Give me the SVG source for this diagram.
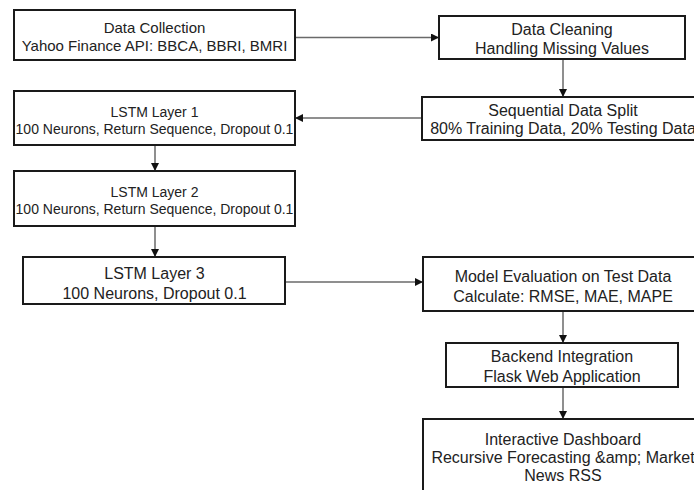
<svg xmlns="http://www.w3.org/2000/svg" width="694" height="490" viewBox="0 0 694 490">
<style>
.box{fill:#fff;stroke:#1a1a1a;stroke-width:2}
.t{font-family:"Liberation Sans",Arial,sans-serif;fill:#222;text-anchor:middle}
.f16{font-size:16px}
.f15{font-size:15px}
.f14{font-size:14px}
.c{fill:none;stroke:#6a6a6a;stroke-width:1.5}
</style>
<defs>
<marker id="ah" markerWidth="8" markerHeight="8" refX="8" refY="4" orient="auto" markerUnits="userSpaceOnUse">
<path d="M0,0 L8,4 L0,8 Z" fill="#111"/>
</marker>
</defs>
<rect width="694" height="490" fill="#fff"/>
<g id="connectors">
<line class="c" x1="295" y1="37.5" x2="439" y2="37.5" marker-end="url(#ah)"/>
<line class="c" x1="563" y1="59" x2="563" y2="97" marker-end="url(#ah)"/>
<line class="c" x1="422" y1="118" x2="295" y2="118" marker-end="url(#ah)"/>
<line class="c" x1="155" y1="145" x2="155" y2="171" marker-end="url(#ah)"/>
<line class="c" x1="155" y1="226" x2="155" y2="257" marker-end="url(#ah)"/>
<line class="c" x1="285" y1="282" x2="423" y2="282" marker-end="url(#ah)"/>
<line class="c" x1="563" y1="311" x2="563" y2="343" marker-end="url(#ah)"/>
<line class="c" x1="563" y1="387" x2="563" y2="419" marker-end="url(#ah)"/>
</g>
<g id="n1">
<rect class="box" x="14" y="10" width="281" height="50"/>
<text class="t f15" x="154.5" y="33">Data Collection</text>
<text class="t f15" x="154.5" y="51">Yahoo Finance API: BBCA, BBRI, BMRI</text>
</g>
<g id="n2">
<rect class="box" x="439" y="16" width="246" height="43"/>
<text class="t f16" x="562" y="35">Data Cleaning</text>
<text class="t f16" x="562" y="53.5">Handling Missing Values</text>
</g>
<g id="n3">
<rect class="box" x="422" y="97" width="282" height="43"/>
<text class="t f16" x="563" y="115.5">Sequential Data Split</text>
<text class="t f16" x="563" y="134">80% Training Data, 20% Testing Data</text>
</g>
<g id="n4">
<rect class="box" x="14" y="91" width="281" height="54"/>
<text class="t f14" x="154.5" y="116.5">LSTM Layer 1</text>
<text class="t f14" x="154.5" y="133.5">100 Neurons, Return Sequence, Dropout 0.1</text>
</g>
<g id="n5">
<rect class="box" x="14" y="171" width="281" height="55"/>
<text class="t f14" x="154.5" y="196.5">LSTM Layer 2</text>
<text class="t f14" x="154.5" y="213.5">100 Neurons, Return Sequence, Dropout 0.1</text>
</g>
<g id="n6">
<rect class="box" x="23" y="257" width="262" height="47"/>
<text class="t f16" x="154.5" y="279">LSTM Layer 3</text>
<text class="t f16" x="154.5" y="298.5">100 Neurons, Dropout 0.1</text>
</g>
<g id="n7">
<rect class="box" x="423" y="257" width="280" height="54"/>
<text class="t f16" x="563" y="281.5">Model Evaluation on Test Data</text>
<text class="t f16" x="563" y="301.5">Calculate: RMSE, MAE, MAPE</text>
</g>
<g id="n8">
<rect class="box" x="446" y="343" width="232" height="44"/>
<text class="t f16" x="562" y="362">Backend Integration</text>
<text class="t f16" x="562" y="381.5">Flask Web Application</text>
</g>
<g id="n9">
<rect class="box" x="423" y="419" width="280" height="80"/>
<text class="t f16" x="563" y="444.5">Interactive Dashboard</text>
<text class="t f16" x="563" y="463">Recursive Forecasting &amp;amp; Market</text>
<text class="t f16" x="563" y="481">News RSS</text>
</g>
</svg>
